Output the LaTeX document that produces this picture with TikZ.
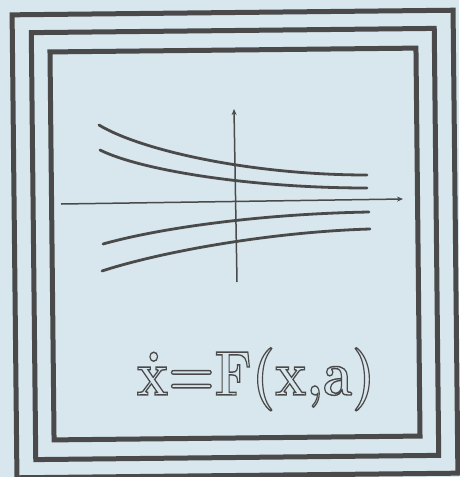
\documentclass[tikz,border=0pt]{standalone}
\usetikzlibrary{arrows.meta}
\definecolor{paper}{HTML}{D8E6ED}
\definecolor{ink}{HTML}{4A4A4A}
\newcommand{\outlinetext}[1]{\special{pdf:literal 1 Tr 1.4 w}#1\special{pdf:literal 0 Tr}}
\tikzset{
  frame/.style={draw=ink, line width=5pt},
  axis/.style={draw=ink, line width=1.5pt, -{Stealth[length=6pt,width=5pt]}},
  curve/.style={draw=ink, line width=2.8pt, line cap=round},
}
\begin{document}
\begin{tikzpicture}[x=1pt,y=-1pt]
\useasboundingbox (0,0) rectangle (459,477);
\fill[paper] (0,0) rectangle (459,477);
\begin{scope}[rotate around={0.6:(235,244)}]
  \path[frame] (235-220.5,244-231.5) rectangle (235+220.5,244+231.5);
  \path[frame] (235-201.5,244-213.5) rectangle (235+201.5,244+213.5);
  \path[frame] (235-183,244-194) rectangle (235+183,244+194);
\end{scope}
\coordinate (xa) at (61,204);
\coordinate (xb) at (403,199);
\coordinate (ya) at (237,282);
\coordinate (yb) at (234,109);
\path[axis] (xa) -- (xb);
\path[axis] (ya) -- (yb);
\path[curve] (99,125) .. controls (140,150) and (250,175) .. (367,175);
\path[curve] (100,150) .. controls (140,170) and (250,188) .. (367,188);
\path[curve] (103,244) .. controls (160,228) and (260,214) .. (369,212);
\path[curve] (102,271) .. controls (160,252) and (270,232) .. (370,229);
\node[anchor=base, inner sep=0pt, xscale=0.84, text=ink] (eq) at (256,395)
  {\fontsize{63}{70}\selectfont\bfseries\outlinetext{\.x=F(x,a)}};
\end{tikzpicture}
\end{document}
